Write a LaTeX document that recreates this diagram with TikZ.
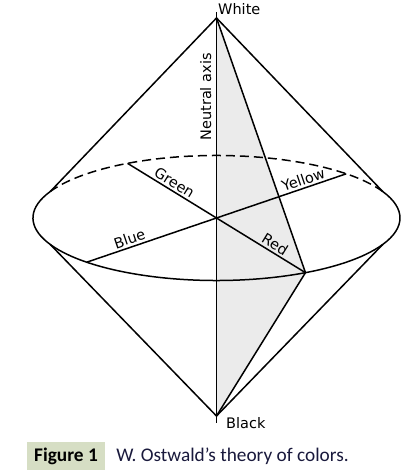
\documentclass[tikz,border=0pt]{standalone}
\usepackage{fontspec}
\setmainfont{DejaVu Sans}
\newfontfamily\capfont{Carlito}
\usepackage{tikz}
\usetikzlibrary{positioning}
\definecolor{capbox}{RGB}{214,222,196}
\definecolor{captext}{RGB}{25,25,60}

\begin{document}
\begin{tikzpicture}[
  x=1pt, y=1pt,
  font=\fontsize{14.5}{16}\selectfont,
  rim/.style={line width=1.5pt, line join=round},
  back/.style={rim, dash pattern=on 9pt off 5pt},
  hue/.style={sloped, above, inner sep=2pt},
  plane/.style={fill=black!8, draw=none},
  capt/.style={font=\capfont\fontsize{19.3}{21}\selectfont, text=captext}
]
\useasboundingbox (-216.5,-258) rectangle (190.5,218);

% poles, centre and the hue points on the rim
\coordinate (centre) at (0,0);
\coordinate (white) at (0,200);
\coordinate (black) at (0,-198);
\coordinate (green) at (119:183.5 and 62.5);
\coordinate (red) at (299:183.5 and 62.5);
\coordinate (yellow) at (45:183.5 and 62.5);
\coordinate (blue) at (225:183.5 and 62.5);
\coordinate (upleft) at (155:183.5 and 62.5);
\coordinate (upright) at (25:183.5 and 62.5);
\coordinate (lowleft) at (205:183.5 and 62.5);
\coordinate (lowright) at (335:183.5 and 62.5);

\fill[plane] (white) -- (red) -- (black) -- cycle;

% the rim
\draw[back] (upright) arc[start angle=25, end angle=155, x radius=183.5, y radius=62.5];
\draw[rim] (upleft) arc[start angle=155, end angle=385, x radius=183.5, y radius=62.5];

% the two cones
\draw[rim] (upleft) -- (white) -- (upright);
\draw[rim] (lowleft) -- (black) -- (lowright);
\draw[rim] (white) -- (red) -- (black);

% neutral axis
\draw[rim] ([yshift=6pt]white) -- ([yshift=-7pt]black);
\node[rotate=90, anchor=south, inner sep=0pt] (axis) at (-5,121) {Neutral axis};
\node[anchor=base west, inner sep=0pt] (whitelbl) at (1.5,203) {White};
\node[anchor=base west, inner sep=0pt] (blacklbl) at (9.5,-210) {Black};

% hue diameters
\draw[rim] (green) -- node[hue, pos=.48] {Green} (centre);
\draw[rim] (centre) -- node[hue, pos=.61] {Red} (red);
\draw[rim] (blue) -- node[hue, pos=.35] {Blue} (centre);
\draw[rim] (centre) -- node[hue, pos=.69] {Yellow} (yellow);

% caption
\node[capt, fill=capbox, text=black, font=\capfont\bfseries\fontsize{19.3}{21}\selectfont,
      minimum width=78pt, minimum height=28pt, inner sep=0pt] (fig) at (-150.5,-238) {Figure 1};
\node[capt, right=11pt of fig, inner sep=0pt] (caption) {W. Ostwald’s theory of colors.};
\end{tikzpicture}
\end{document}
